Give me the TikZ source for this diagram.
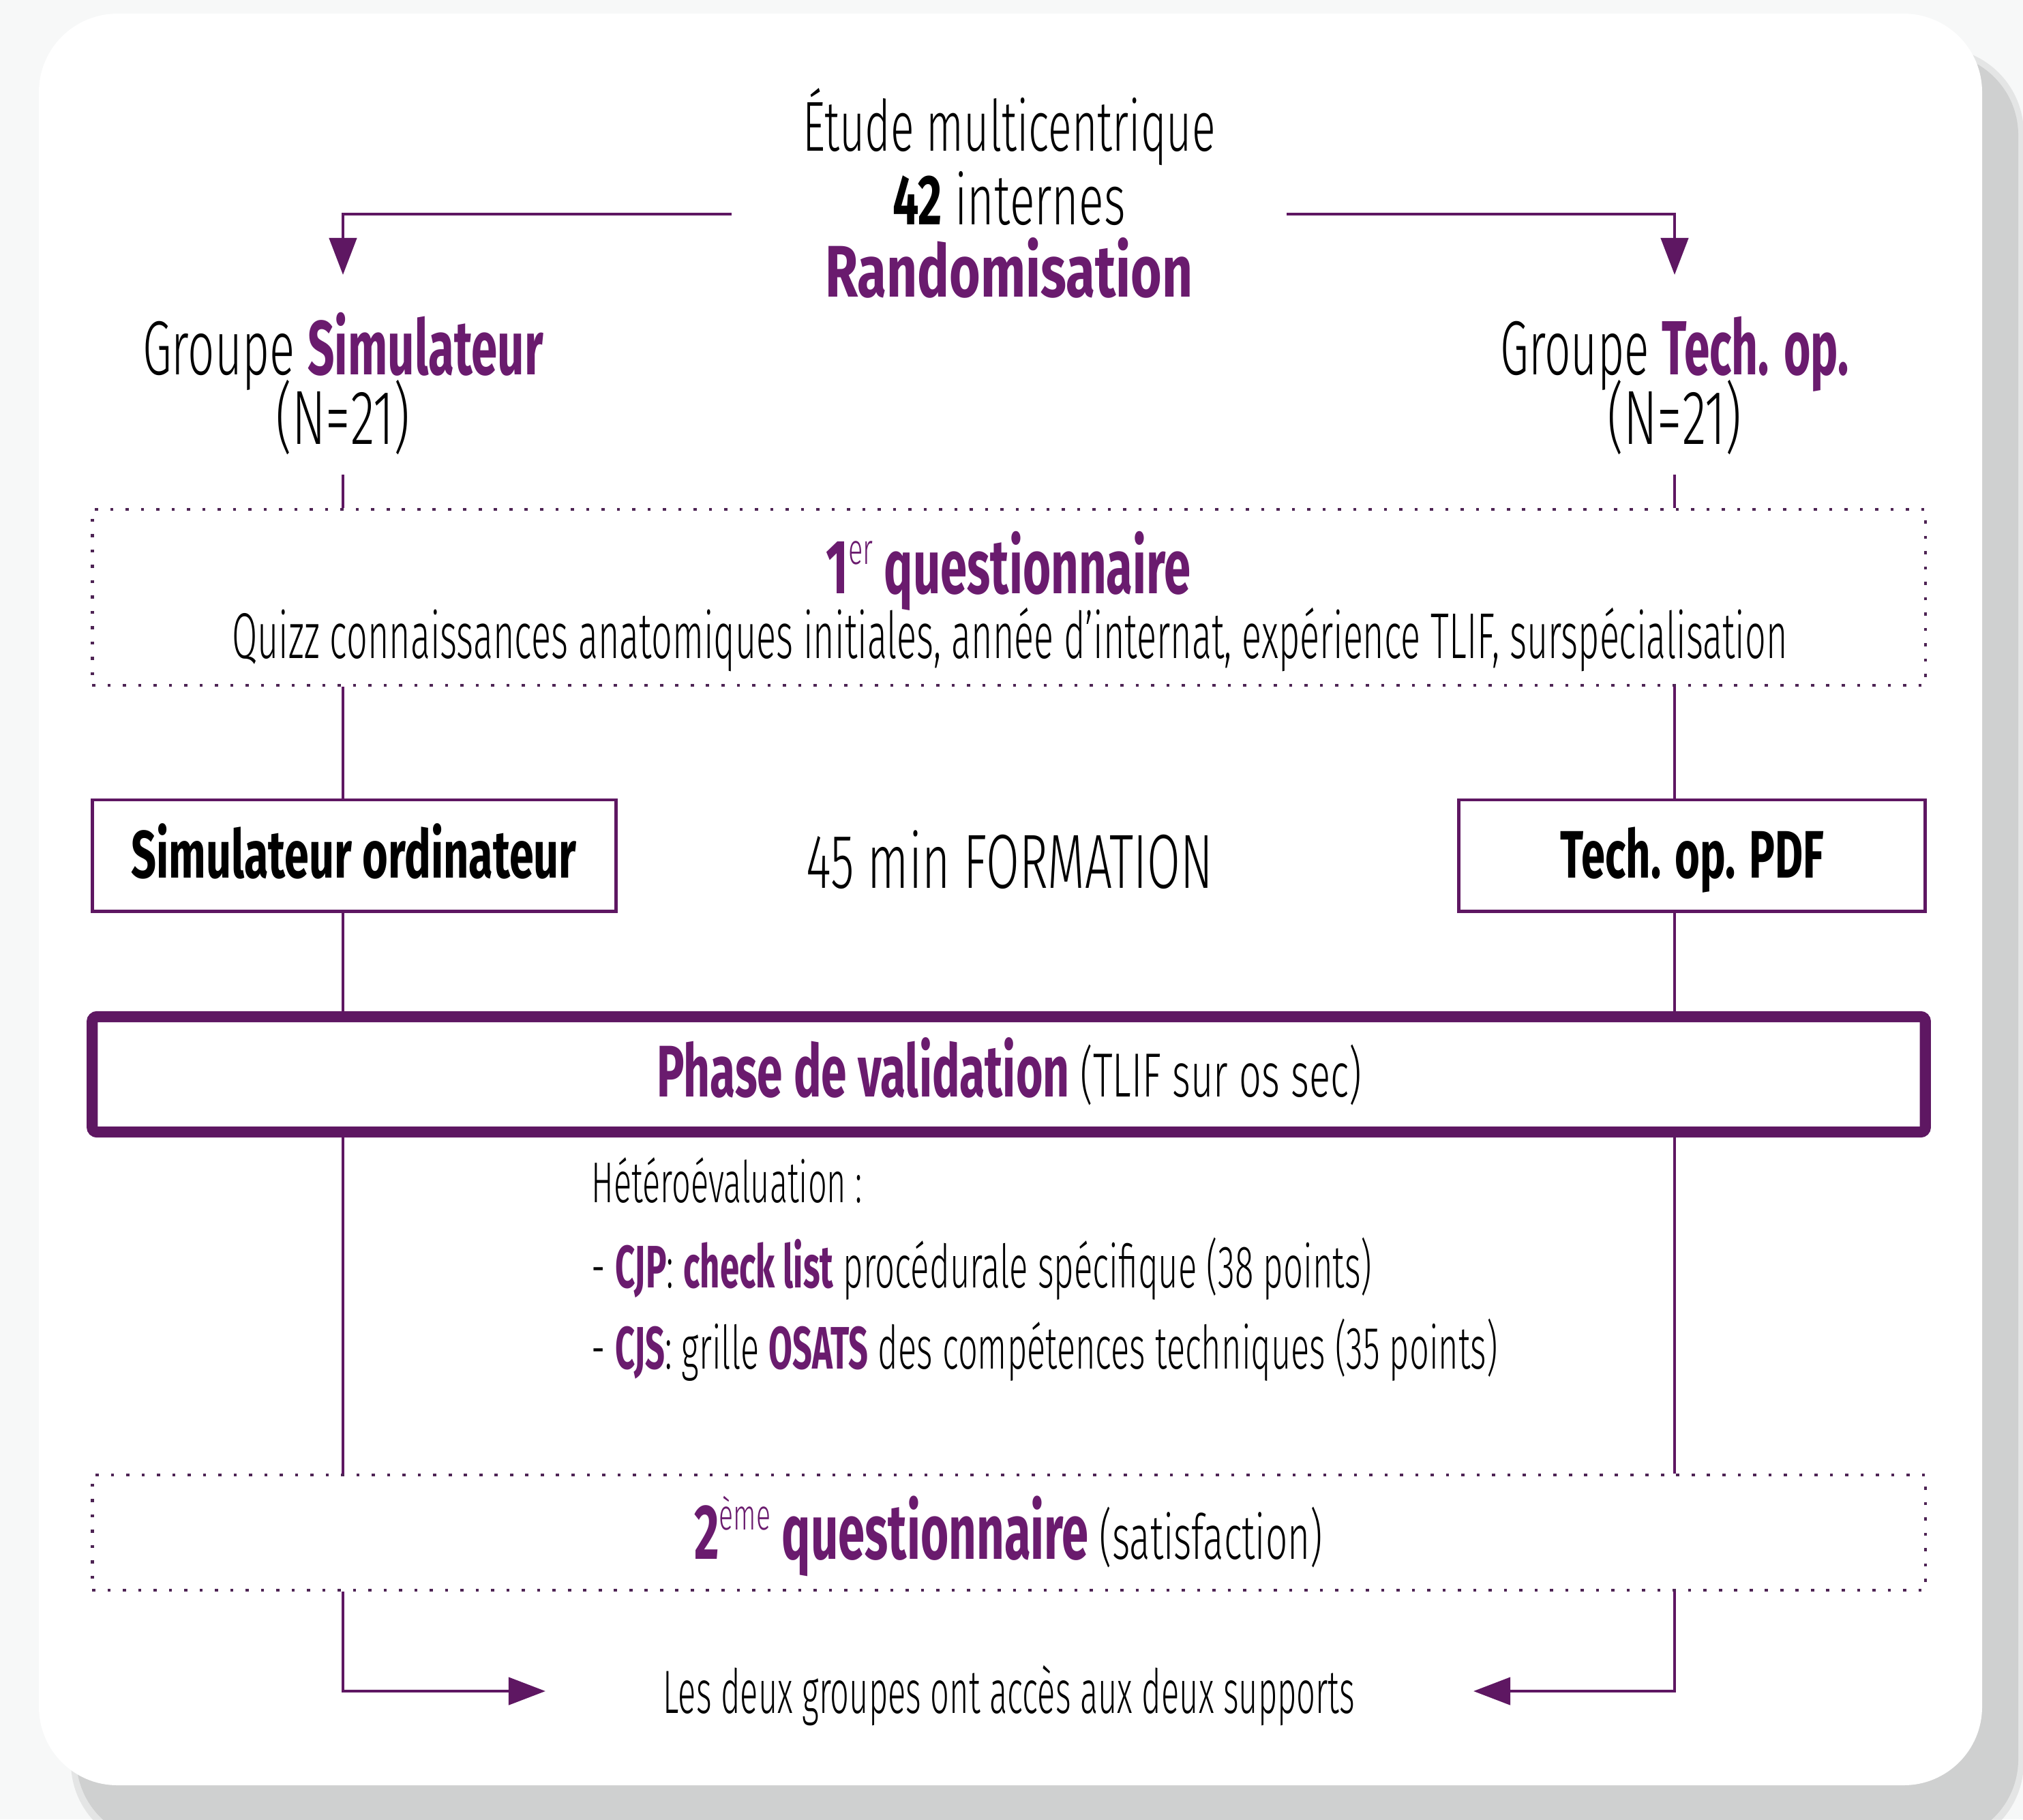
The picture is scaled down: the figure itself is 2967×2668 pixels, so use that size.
\documentclass[tikz,border=0pt]{standalone}
\usepackage{fontspec}
\usepackage{graphicx}
\setmainfont{Fira Sans}
\newfontfamily\lt{Fira Sans Light}
\newfontfamily\bd{Fira Sans Bold}
\usetikzlibrary{arrows.meta}
\definecolor{pur}{HTML}{6A1B6E}
\definecolor{lin}{HTML}{5E1762}
\definecolor{dotc}{HTML}{4E2454}
\definecolor{shad}{HTML}{CFD0D0}
\definecolor{bgc}{HTML}{F7F8F8}
\newcommand\fs[1]{\fontsize{#1}{#1}\selectfont}
\newlength\fitlen
\newcommand\fitw[2]{\settowidth{\fitlen}{#2}\pgfmathsetmacro\fitf{#1*0.28453/\fitlen}\scalebox{\fitf}[1]{#2}}
\newcommand\supr[1]{\raisebox{12.2pt}{\lt\fs{18}#1}}
\tikzset{
  conn/.style={draw=lin, line width=1.3pt},
  arr/.style={conn, -{Triangle[length=0.54cm, width=0.40cm]}},
  dotbox/.style={draw=dotc, line width=1.3pt, dash pattern=on 1.3pt off 5.1pt, rectangle, inner sep=0},
  solidbox/.style={draw=lin, line width=1.4pt, fill=white, rectangle, inner sep=0},
  phasebox/.style={draw=lin, line width=4.6pt, rounded corners=2pt, rectangle, inner sep=0},
  txt/.style={inner sep=0, anchor=base},
  txtl/.style={inner sep=0, anchor=base west},
}
\begin{document}
\begin{tikzpicture}[x=0.01cm, y=-0.01cm]
\useasboundingbox (0,0) rectangle (2967,2668);
\fill[bgc] (0,0) rectangle (2967,2668);
% shadow and card
\fill[shad, opacity=0.45, rounded corners=1.25cm] (104,70) rectangle (2968,2710);
\fill[shad, rounded corners=1.2cm] (112,78) rectangle (2960,2700);
\fill[white, rounded corners=1.15cm] (57,20) rectangle (2907,2618);

% boxes
\node[dotbox, minimum width=26.87cm, minimum height=2.58cm] (q1) at (1479.5,876) {};
\node[solidbox, minimum width=7.67cm, minimum height=1.63cm] (sim) at (519.5,1254.5) {};
\node[solidbox, minimum width=6.83cm, minimum height=1.63cm] (tech) at (2481.5,1254.5) {};
\node[phasebox, minimum width=26.87cm, minimum height=1.69cm] (ph) at (1479.5,1575.5) {};
\node[dotbox, minimum width=26.87cm, minimum height=1.69cm] (q2) at (1479.5,2247.5) {};

% texts
\node[txt] (etude) at (1480,221) {\fitw{605}{\lt\fs{29.5}Étude multicentrique}};
\node[txt] (internes) at (1480,329) {\fitw{341}{\lt\fs{29.5}{\bd 42} internes}};
\node[txt] (rando) at (1480,435) {\fitw{539}{\bd\fs{30.5}\color{pur}Randomisation}};
\node[txt] (gsim) at (503,549) {\fitw{587}{\lt\fs{32}Groupe {\bd\color{pur}Simulateur}}};
\node[txt] (nsim) at (503,651) {\fitw{197}{\lt\fs{32}(N=21)}};
\node[txt] (gtech) at (2456,549) {\fitw{511}{\lt\fs{32}Groupe {\bd\color{pur}Tech. op.}}};
\node[txt] (ntech) at (2456,651) {\fitw{197}{\lt\fs{32}(N=21)}};
\node[txt] (q1t) at (1479,870) {\fitw{535}{\bd\fs{32}\color{pur}1\supr{er} questionnaire}};
\node[txt] (q1d) at (1481,965) {\fitw{2280}{\lt\fs{27}Quizz connaissances anatomiques initiales, année d’internat, expérience TLIF, surspécialisation}};
\node[txt] (simt) at (519,1287) {\fitw{653}{\bd\fs{28}Simulateur ordinateur}};
\node[txt] (form) at (1481,1302) {\fitw{596}{\lt\fs{32}45 min FORMATION}};
\node[txt] (techt) at (2482,1287) {\fitw{386}{\bd\fs{28}Tech. op. PDF}};
\node[txt] (pht) at (1480,1608) {\fitw{1033}{\lt\fs{26}{\bd\fs{30.5}\color{pur}Phase de validation} (TLIF sur os sec)}};
\node[txtl] (het) at (867,1763) {\fitw{397}{\lt\fs{24}Hétéroévaluation :}};
\node[txtl] (cjp) at (867,1888) {\fitw{1144}{\lt\fs{25}- {\bd\color{pur}CJP}: {\bd\color{pur}check list} procédurale spécifique (38 points)}};
\node[txtl] (cjs) at (867,2007) {\fitw{1328}{\lt\fs{25}- {\bd\color{pur}CJS}: grille {\bd\color{pur}OSATS} des compétences techniques (35 points)}};
\node[txt] (q2t) at (1479,2286) {\fitw{921}{\lt\fs{26}{\bd\fs{32.5}\color{pur}2\supr{ème} questionnaire} (satisfaction)}};
\node[txt] (les) at (1480,2512) {\fitw{1014}{\lt\fs{25.5}Les deux groupes ont accès aux deux supports}};

% connectors
\coordinate (tl) at (1073,314);
\coordinate (tr) at (1887,314);
\coordinate (al) at (503,403);
\coordinate (ar) at (2456,403);
\draw[arr] (tl) -| (al);
\draw[arr] (tr) -| (ar);
\coordinate (lt) at (503,696);
\coordinate (rt) at (2456,696);
\draw[conn] (lt) -- (lt |- q1.north);
\draw[conn] (rt) -- (rt |- q1.north);
\draw[conn] (lt |- q1.south) -- (lt |- sim.north);
\draw[conn] (rt |- q1.south) -- (rt |- tech.north);
\draw[conn] (lt |- sim.south) -- (lt |- ph.north);
\draw[conn] (rt |- tech.south) -- (rt |- ph.north);
\draw[conn] (lt |- ph.south) -- (lt |- q2.north);
\draw[conn] (rt |- ph.south) -- (rt |- q2.north);
\coordinate (bl) at (800,2480);
\coordinate (br) at (2161,2480);
\draw[arr] (lt |- q2.south) |- (bl);
\draw[arr] (rt |- q2.south) |- (br);
\end{tikzpicture}
\end{document}
